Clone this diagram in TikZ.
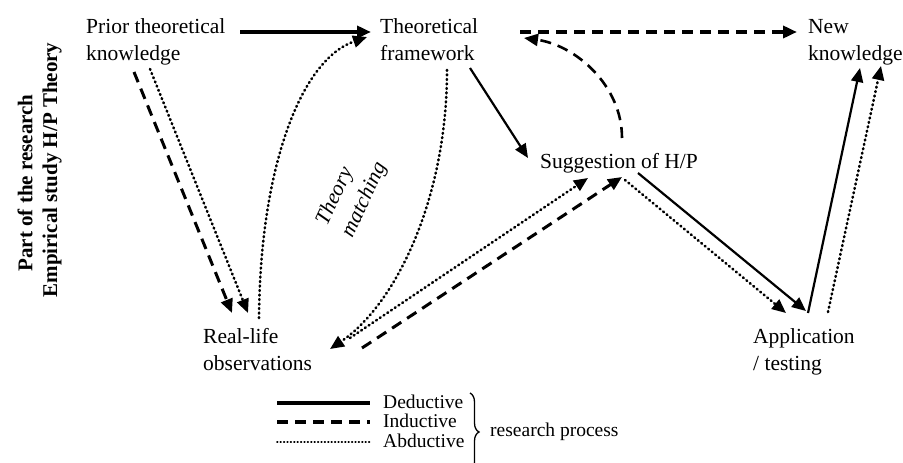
\documentclass[tikz,border=0pt]{standalone}
\usepackage{fontspec}
\setmainfont{Liberation Serif}
\usepackage{tikz}
\usetikzlibrary{arrows.meta,calc,decorations.pathreplacing}

\begin{document}
\begin{tikzpicture}[x=1pt, y=-1pt,
  txt/.style={inner sep=0pt, anchor=north west, align=left, font=\fontsize{21.5}{27}\selectfont},
  legtxt/.style={inner sep=0pt, anchor=base west, font=\fontsize{19.5}{22}\selectfont},
  ded/.style={line width=2.2pt, -{Triangle[length=14pt,width=12pt]}},
  ind/.style={line width=3pt, dash pattern=on 11pt off 7pt, -{Triangle[length=14pt,width=12pt]}},
  abd/.style={line width=2.6pt, line cap=round, dash pattern=on 0.9pt off 3.6pt, -{Triangle[length=14pt,width=12pt]}}]
\useasboundingbox (0,0) rectangle (903,463);
%%%%% Nodes %%%%%
\node[txt] (prior) at (86,18) {Prior theoretical\\knowledge};
\node[txt] (theo) at (380,18) {Theoretical\\framework};
\node[txt] (new) at (808,19) {New\\knowledge};
\node[txt] (sugg) at (540,153) {Suggestion of H/P};
\node[txt] (real) at (203,328) {Real-life\\observations};
\node[txt] (appl) at (753,328) {Application\\/ testing};
\node[font=\bfseries\fontsize{21}{26}\selectfont, rotate=90] (part) at (25,183) {Part of the research};
\node[font=\bfseries\fontsize{21}{26}\selectfont, rotate=90] (emp) at (52,170) {Empirical study H/P Theory};
\node[font=\itshape\fontsize{21.5}{28}\selectfont, rotate=65, align=left, inner sep=0pt] (match) at (352,194) {Theory\\matching};
%%%%% Arrows %%%%%
\draw[ded, line width=4pt] ($(prior.north west)+(154,14)$) -- ($(theo.north west)+(-9,14)$);
\draw[ind, line width=3.5pt] ($(theo.north west)+(140,14)$) -- ($(new.north west)+(-11,13)$);
\draw[ind, line width=2.6pt] ($(sugg.north west)+(82,-15)$) .. controls (622,85) and (575,45) .. ($(theo.north west)+(144,20)$);
\draw[ded] ($(theo.north west)+(90,50)$) -- ($(sugg.north west)+(-12,5)$);
\draw[abd] ($(real.north west)+(56,-10)$) .. controls (260,170) and (300,60) .. ($(theo.north west)+(-13,19)$);
\draw[ind] ($(prior.north west)+(48,54)$) -- ($(real.north west)+(29,-15)$);
\draw[abd] ($(prior.north west)+(64,51)$) -- ($(real.north west)+(45,-15)$);
\draw[abd] ($(theo.north west)+(67,52)$) .. controls (447,200) and (395,305) .. ($(real.north west)+(127,21)$);
\draw[abd] ($(real.north west)+(147,10)$) -- ($(sugg.north west)+(48,25)$);
\draw[ind] ($(real.north west)+(159,20)$) -- ($(sugg.north west)+(82,24)$);
\draw[ded] ($(sugg.north west)+(98,20)$) -- ($(appl.north west)+(53,-17)$);
\draw[abd] ($(sugg.north west)+(85,27)$) -- ($(appl.north west)+(33,-15)$);
\draw[ded] ($(appl.north west)+(55,-15)$) -- ($(new.north west)+(52,49)$);
\draw[abd] ($(appl.north west)+(75,-16)$) -- ($(new.north west)+(73,47)$);
%%%%% Legend %%%%%
\node[legtxt] (lded) at (383,408) {Deductive};
\node[legtxt] (lind) at (383,427) {Inductive};
\node[legtxt] (labd) at (383,447) {Abductive};
\draw[line width=4pt] ($(lded.base west)+(-106,-5)$) -- ($(lded.base west)+(-13,-5)$);
\draw[line width=4pt, dash pattern=on 11pt off 7pt] ($(lind.base west)+(-106,-5)$) -- ($(lind.base west)+(-13,-5)$);
\draw[line width=1.8pt, line cap=round, dash pattern=on 0.6pt off 2.8pt] ($(labd.base west)+(-106,-5)$) -- ($(labd.base west)+(-13,-5)$);
\coordinate (btop) at (470,393);
\coordinate (bbot) at (470,471);
\draw[line width=1.3pt, decorate, decoration={brace, amplitude=9pt}] (btop) -- (bbot);
\node[legtxt, anchor=west] (proc) at (490,432) {research process};
\end{tikzpicture}
\end{document}
